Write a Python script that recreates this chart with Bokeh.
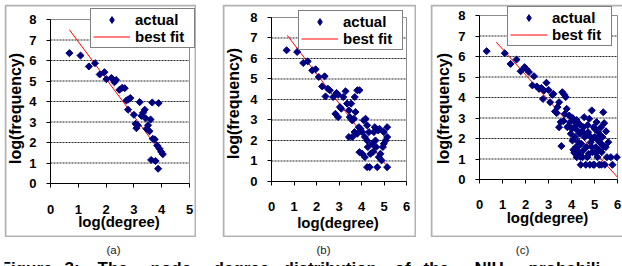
import math
from bokeh.plotting import figure
from bokeh.models import Range1d, FixedTicker, Legend, LegendItem, Label, BoxAnnotation
from bokeh.layouts import row, column
from bokeh.embed import file_html
from bokeh.resources import INLINE

FONT = "Liberation Sans"

# ---------------- data ----------------
a_x = [0.68, 1.08, 1.38, 1.60, 1.77, 1.94, 2.01, 2.19, 2.30, 2.32, 2.36, 2.48, 2.58, 2.67,
       2.73, 2.80, 2.87, 2.79, 3.00, 3.06, 3.09, 3.14, 3.21, 3.27, 3.33, 3.39, 3.42, 3.45,
       3.51, 3.56, 3.60, 3.66, 3.62, 3.68, 3.75, 3.78, 3.84, 3.87, 3.89, 3.92, 3.98, 4.04]
a_y = [6.36, 6.24, 5.71, 5.87, 5.32, 5.43, 5.09, 5.15, 4.94, 5.02, 5.05, 4.57, 4.67, 4.65,
       4.05, 4.10, 4.17, 3.60, 3.35, 2.91, 2.70, 2.84, 3.97, 3.30, 3.45, 3.60, 3.18, 2.67,
       2.84, 2.55, 3.12, 3.95, 1.15, 2.18, 2.15, 1.10, 1.85, 0.72, 3.92, 1.70, 1.55, 1.43]
a_fit_x = [0.68, 4.05]
a_fit_y = [7.50, 1.37]

b_x = [0.67, 1.14, 1.41, 1.61, 1.81, 1.96, 2.10, 2.36, 2.25, 2.50, 2.59, 2.40, 2.74, 2.89,
       2.96, 2.84, 2.96, 3.04, 3.10, 3.19, 3.29, 3.36, 3.44, 3.54, 3.48, 3.59, 3.66, 3.73,
       3.70, 3.81, 3.91, 3.44, 3.59, 3.69, 3.81, 3.88, 3.96, 4.03, 3.91, 4.03, 4.10, 4.18,
       4.25, 4.15, 4.25, 4.33, 4.28, 4.15, 4.25, 4.36, 4.40, 4.47, 4.55, 4.59, 4.62, 4.65,
       4.70, 4.74, 4.80, 4.84, 4.89, 4.95, 4.99, 4.99, 5.07, 5.14, 5.14, 5.14, 4.77, 4.52]
b_y = [6.40, 6.32, 5.78, 5.86, 5.42, 5.47, 5.10, 5.13, 4.64, 4.53, 4.45, 4.15, 4.12, 4.32,
       4.23, 3.30, 3.14, 3.63, 3.55, 4.12, 4.40, 3.80, 3.47, 3.80, 3.14, 2.98, 3.06, 3.39,
       4.12, 4.45, 4.45, 2.17, 2.17, 2.41, 2.33, 2.65, 2.57, 2.41, 1.43, 1.35, 2.98, 3.06,
       2.74, 2.17, 2.00, 2.41, 1.68, 1.19, 0.70, 0.70, 1.35, 1.84, 2.41, 2.65, 2.00, 1.68,
       0.70, 2.49, 2.57, 1.35, 1.03, 1.68, 1.84, 2.41, 2.00, 2.65, 2.17, 0.70, 1.19, 1.45]
b_fit_x = [0.70, 5.07]
b_fit_y = [7.13, 0.83]

c_x = [0.31, 1.10, 1.35, 1.61, 1.79, 1.96, 2.05, 2.15, 2.30, 2.37, 2.49, 2.59, 2.69, 2.76,
       2.81, 2.91, 3.00, 3.07, 3.17, 3.21, 3.28, 3.36, 3.39, 3.46, 3.46, 3.53, 3.56, 3.60,
       3.68, 3.75, 3.71, 3.79, 3.82, 3.90, 3.94, 3.97, 4.01, 4.04, 4.08, 4.11, 4.16, 4.19,
       4.23, 4.26, 4.30, 4.33, 4.37, 4.40, 4.43, 4.48, 4.52, 4.55, 4.58, 4.62, 4.65, 4.69,
       4.72, 4.77, 4.80, 4.84, 4.88, 4.91, 4.96, 4.99, 5.01, 5.06, 5.09, 5.13, 5.16, 5.20,
       5.23, 5.28, 5.31, 5.35, 5.38, 5.42, 5.45, 5.49, 5.54, 5.60, 5.71, 5.78, 5.97,
       4.05, 4.15, 4.22, 4.35, 4.45, 4.60, 4.70, 4.82, 4.93, 5.03, 5.12, 5.25, 5.40, 5.50,
       4.12, 4.28, 4.50, 4.75, 4.87, 5.05, 5.18, 5.33, 3.85, 3.65, 4.40, 4.95, 5.30]
c_y = [6.26, 6.16, 5.64, 5.85, 5.28, 5.48, 5.37, 5.24, 4.59, 5.04, 4.54, 4.42, 4.47, 3.93,
       4.34, 4.72, 4.37, 3.77, 4.13, 4.18, 3.32, 3.24, 3.53, 3.77, 2.55, 2.80, 1.63, 4.26,
       4.15, 4.02, 3.20, 3.45, 2.55, 3.12, 2.80, 2.23, 2.47, 1.90, 1.45, 2.88, 2.07, 1.58,
       1.09, 2.39, 1.82, 1.33, 2.23, 0.72, 1.74, 1.09, 2.55, 3.04, 2.07, 0.72, 1.58, 1.09,
       2.31, 2.96, 0.72, 1.82, 3.37, 1.33, 2.55, 0.72, 2.07, 1.58, 2.80, 1.09, 2.31, 0.72,
       1.82, 2.55, 1.33, 2.07, 3.28, 2.75, 0.72, 1.58, 1.09, 1.82, 1.09, 0.72, 1.09,
       3.00, 2.60, 2.90, 2.70, 2.35, 2.20, 2.65, 2.10, 2.00, 2.45, 1.95, 2.15, 1.60, 2.35,
       1.30, 1.60, 1.40, 1.25, 1.60, 1.30, 1.45, 1.70, 2.60, 2.85, 1.10, 0.72, 0.72]
c_fit_x = [0.73, 6.00]
c_fit_y = [6.70, 0.11]

x_ticks_a = [0, 1, 2, 3, 4, 5]
x_ticks_bc = [0, 1, 2, 3, 4, 5, 6]
y_ticks = [0, 1, 2, 3, 4, 5, 6, 7, 8]
grid_ticks = [1, 2, 3, 4, 5, 6, 7]
x_title = "log(degree)"
y_title = "log(frequency)"
legend_labels = ["actual", "best fit"]
captions = ["(a)", "(b)", "(c)"]
caption_words = ["Figure", "3:", "The", "node", "degree", "distribution", "of", "the", "NIH",
                 "probabili"]

PANEL_H = 233
NAVY = "#000080"
NAN = float("nan")


def make_panel(xs, ys, fx, fy, xticks, width, xview, yview, xlab_std, xt_off, yt_off,
               legend_loc, right_edge=True):
    x_lo, x_hi = xticks[0], xticks[-1]
    y_lo, y_hi = y_ticks[0], y_ticks[-1]
    p = figure(width=width, height=PANEL_H, x_range=Range1d(*xview), y_range=Range1d(*yview),
               output_backend="svg", toolbar_location=None, min_border=0)
    p.background_fill_color = "white"
    p.border_fill_color = "white"
    p.outline_line_color = None
    p.grid.visible = False

    # dotted horizontal grid lines and gray plot-area border (top / right)
    p.segment(x0=[x_lo] * len(grid_ticks), y0=grid_ticks, x1=[x_hi] * len(grid_ticks),
              y1=grid_ticks, line_color="#222222", line_dash="2 1", line_width=1)
    p.line([x_lo, x_hi, x_hi], [y_hi, y_hi, y_lo], line_color="#8c8c8c", line_width=1)

    for ax in (p.xaxis[0], p.yaxis[0]):
        ax.fixed_location = 0
        ax.axis_line_color = "black"
        ax.major_tick_line_color = "black"
        ax.major_tick_out = 4
        ax.major_tick_in = 0
        ax.minor_tick_line_color = None
        ax.major_label_text_font = FONT
        ax.major_label_text_font_style = "bold"
        ax.major_label_text_font_size = "13px"
        ax.major_label_text_color = "black"

    p.xaxis.bounds = (x_lo, x_hi)
    p.yaxis.bounds = (y_lo, y_hi)
    p.xaxis.ticker = FixedTicker(ticks=xticks)
    p.yaxis.ticker = FixedTicker(ticks=y_ticks)
    p.xaxis.major_label_standoff = xlab_std
    p.yaxis.major_label_standoff = 10

    fit = p.line(fx, fy, line_color="red", line_width=1)
    p.scatter(xs, ys, marker="square", size=5, angle=math.pi / 4,
              fill_color=NAVY, line_color=NAVY)
    # legend swatch for the points: a diamond marker that has no visible point
    swatch = p.scatter(x=[NAN], y=[NAN], marker="diamond", size=8,
                       fill_color=NAVY, line_color=NAVY)

    legend = Legend(items=[LegendItem(label=legend_labels[0], renderers=[swatch]),
                           LegendItem(label=legend_labels[1], renderers=[fit])],
                    location=legend_loc, margin=0, padding=2, spacing=0,
                    glyph_width=37, glyph_height=17, label_height=17,
                    label_standoff=5, label_width=57,
                    label_text_font=FONT, label_text_font_style="bold",
                    label_text_font_size="15px", label_text_color="black",
                    border_line_color="black", border_line_width=1,
                    background_fill_color="white", background_fill_alpha=1)
    p.add_layout(legend, "center")

    # axis titles
    p.add_layout(Label(x=(x_lo + x_hi) / 2, y=y_lo, x_offset=-1, y_offset=-xt_off,
                       text=x_title, text_font=FONT, text_font_style="bold",
                       text_font_size="15px", text_align="center", text_baseline="middle",
                       text_color="black"))
    p.add_layout(Label(x=x_lo, y=(y_lo + y_hi) / 2, x_offset=-yt_off[0], y_offset=-yt_off[1],
                       angle=math.pi / 2, text=y_title, text_font=FONT,
                       text_font_style="bold", text_font_size="16px", text_align="center",
                       text_baseline="middle", text_color="black"))

    box = BoxAnnotation(left=1, right=(width - 1) if right_edge else width + 10,
                        top=1, bottom=PANEL_H - 1,
                        left_units="canvas", right_units="canvas",
                        top_units="canvas", bottom_units="canvas",
                        fill_alpha=0, line_color="black", line_width=2)
    p.add_layout(box)
    return p


pa = make_panel(a_x, a_y, a_fit_x, a_fit_y, x_ticks_a, 192,
                (-1.655, 5.252), (-2.634, 8.732), 17, 38, (35, 7), (86, 189))
pb = make_panel(b_x, b_y, b_fit_x, b_fit_y, x_ticks_bc, 194,
                (-2.178, 6.444), (-2.732, 8.634), 17, 41, (38, 4), (76, 187))
pc = make_panel(c_x, c_y, c_fit_x, c_fit_y, x_ticks_bc, 192,
                (-2.130, 6.217), (-2.829, 8.537), 16, 38, (36, 11), (77, 191),
                right_edge=False)
pb.margin = (0, 0, 0, 26)
pc.margin = (0, 0, 0, 14)

cap = figure(width=618, height=29, x_range=Range1d(0, 618), y_range=Range1d(0, 29),
             output_backend="svg", toolbar_location=None, min_border=0)
cap.axis.visible = False
cap.grid.visible = False
cap.outline_line_color = None
cap.background_fill_color = "white"
cap.border_fill_color = "white"
for txt, xc in zip(captions, [109, 319, 518]):
    cap.add_layout(Label(x=xc, y=17, text=txt, text_font=FONT, text_font_size="11.5px",
                         text_align="center", text_baseline="middle", text_color="#222222"))
for word, xw in zip(caption_words, [-4, 60, 93, 146, 209, 279, 390, 419, 470, 524]):
    cap.add_layout(Label(x=xw, y=8, text=word, text_font=FONT, text_font_style="bold",
                         text_font_size="17px", text_align="left", text_baseline="top",
                         text_color="black"))

root = column(row(pa, pb, pc), cap, styles={"margin-left": "4px", "margin-top": "4px"})

open("out.html", "w").write(file_html(root, INLINE))
